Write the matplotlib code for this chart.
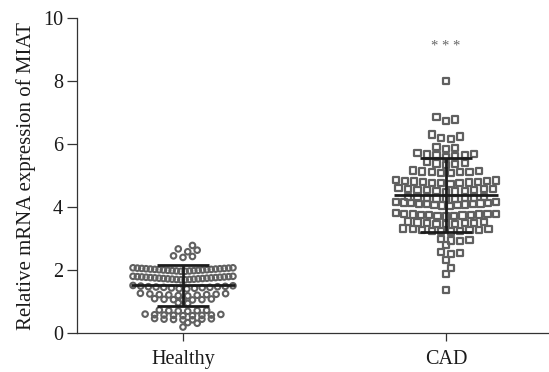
import numpy as np
import matplotlib.pyplot as plt

plt.rcParams['font.family'] = ['Liberation Serif', 'DejaVu Serif']

# groups and individual relative expression values
groups = ['Healthy', 'CAD']

healthy_values = [
    0.19,
    0.31, 0.33,
    0.42, 0.42, 0.43, 0.44, 0.44, 0.45, 0.46,
    0.55, 0.55, 0.56, 0.56, 0.57, 0.57, 0.58, 0.59, 0.60,
    0.69, 0.70, 0.71, 0.71, 0.72, 0.73,
    0.94, 0.96,
    1.05, 1.05, 1.06, 1.06, 1.07, 1.08, 1.09,
    1.18, 1.19, 1.20, 1.21, 1.22, 1.22, 1.23, 1.24, 1.25, 1.26,
    1.40, 1.41, 1.42, 1.43, 1.44, 1.45, 1.45, 1.46, 1.47, 1.47, 1.48, 1.49, 1.50, 1.51,
    1.69, 1.69, 1.70, 1.70, 1.71, 1.71, 1.72, 1.72, 1.73, 1.73, 1.74, 1.74,
    1.75, 1.75, 1.76, 1.76, 1.77, 1.77, 1.78, 1.78, 1.79, 1.79, 1.80, 1.80,
    1.96, 1.96, 1.97, 1.97, 1.98, 1.98, 1.99, 1.99, 2.00, 2.00, 2.01, 2.01,
    2.02, 2.02, 2.03, 2.03, 2.04, 2.04, 2.05, 2.05, 2.06, 2.06, 2.07, 2.07,
    2.40, 2.43, 2.45,
    2.58, 2.63, 2.67,
    2.78,
]

cad_values = [
    1.37, 1.87, 2.06, 2.32,
    2.50, 2.54, 2.58,
    2.80,
    2.92, 2.94, 2.96, 2.98,
    3.22, 3.23, 3.24, 3.25, 3.26, 3.27, 3.28, 3.29, 3.30, 3.32,
    3.45, 3.46, 3.47, 3.48, 3.49, 3.50, 3.51, 3.52, 3.54,
    3.70, 3.71, 3.72, 3.73, 3.74, 3.74, 3.75, 3.76, 3.76, 3.77, 3.78, 3.79, 3.80,
    4.04, 4.05, 4.06, 4.07, 4.08, 4.09, 4.10, 4.10, 4.11, 4.12, 4.13, 4.14, 4.15, 4.16,
    4.25, 4.26, 4.27, 4.28, 4.29, 4.30, 4.31, 4.32, 4.33,
    4.48, 4.49, 4.50, 4.52, 4.53, 4.54, 4.55, 4.56, 4.57, 4.58, 4.60,
    4.74, 4.75, 4.76, 4.77, 4.78, 4.79, 4.80, 4.81, 4.82, 4.83, 4.84, 4.86,
    5.07, 5.08, 5.10, 5.11, 5.12, 5.13, 5.14, 5.16,
    5.34, 5.36, 5.38, 5.40, 5.42,
    5.60, 5.62, 5.64, 5.66, 5.67, 5.69, 5.71,
    5.84, 5.87, 5.90,
    6.15, 6.20, 6.24, 6.30,
    6.74, 6.78, 6.85,
    8.01,
]

# mean and SD bars as drawn
group_means = [1.52, 4.38]
group_sds = [0.65, 1.16]

y_ticks = [0, 2, 4, 6, 8, 10]
sig_text = '* * *'

# pixel size of one data unit, used only to keep sparse rows from stacking
PX_X, PX_Y = 263.0, 31.5


def row_layout(values, step=0.036, max_half=0.19, gap=0.08, diam=7.2):
    # GraphPad-like scatter: close values share a row, spread from the centre out
    vals = np.sort(np.asarray(values, dtype=float))
    offs = np.zeros_like(vals)
    rows = np.split(np.arange(len(vals)), np.where(np.diff(vals) > gap)[0] + 1)
    done = []
    for idx in rows:
        n = len(idx)
        sp = min(step, 2 * max_half / (n - 1)) if n > 1 else step
        slots = (np.arange(n) - (n - 1) / 2) * sp
        order = np.argsort(np.abs(slots) + 1e-6 * (slots < 0), kind='stable')
        base = slots[order]
        best = base
        if n <= 4 and done:
            prev = np.array(done)
            best_d = -1
            for k in [0, 1, -1, 2, -2]:
                cand = base + k * step / 2
                dx = (cand[:, None] - prev[None, :, 0]) * PX_X
                dy = (vals[idx][:, None] - prev[None, :, 1]) * PX_Y
                d = np.sqrt(dx ** 2 + dy ** 2).min()
                if d >= diam:
                    best = cand
                    break
                if d > best_d:
                    best_d, best = d, cand
        offs[idx] = best
        done.extend(zip(best, vals[idx]))
    return vals, offs


fig = plt.figure(figsize=(5.49, 3.72), dpi=100)
ax = fig.add_axes([0.1403, 0.1048, 0.8597, 0.8468])

point_color = '#606060'
line_color = '#1c1c1c'
styles = [dict(marker='o', s=16, linewidths=1.5),
          dict(marker='s', s=20, linewidths=1.6)]

for i, vals in enumerate([healthy_values, cad_values]):
    y, dx = row_layout(vals)
    ax.scatter(i + dx, y, facecolors='none', edgecolors=point_color,
               joinstyle='round', zorder=2, **styles[i])
    ax.hlines(group_means[i], i - 0.198, i + 0.198, color=line_color, lw=2, zorder=3)
    ax.errorbar(i, group_means[i], yerr=group_sds[i], fmt='none', ecolor=line_color,
                elinewidth=2, capsize=18.7, capthick=2, zorder=3)

ax.text(1, 9.0, sig_text, ha='center', va='baseline', fontsize=10.5, color='#666666')

ax.set_xlim(-0.403, 1.392)
ax.set_ylim(0, 10)
ax.set_xticks(range(len(groups)))
ax.set_xticklabels(groups)
ax.set_yticks(y_ticks)
ax.set_ylabel('Relative mRNA expression of MIAT', fontsize=15, color='#1a1a1a', labelpad=5)

for side in ['top', 'right']:
    ax.spines[side].set_visible(False)
for side in ['left', 'bottom']:
    ax.spines[side].set_linewidth(0.9)
    ax.spines[side].set_color('#333333')

ax.tick_params(axis='both', labelsize=14.5, labelcolor='#1a1a1a', color='#333333', width=0.9)
ax.tick_params(axis='x', length=5.5, pad=7)
ax.tick_params(axis='y', length=7, pad=3)

plt.savefig('out.png', dpi=100)
